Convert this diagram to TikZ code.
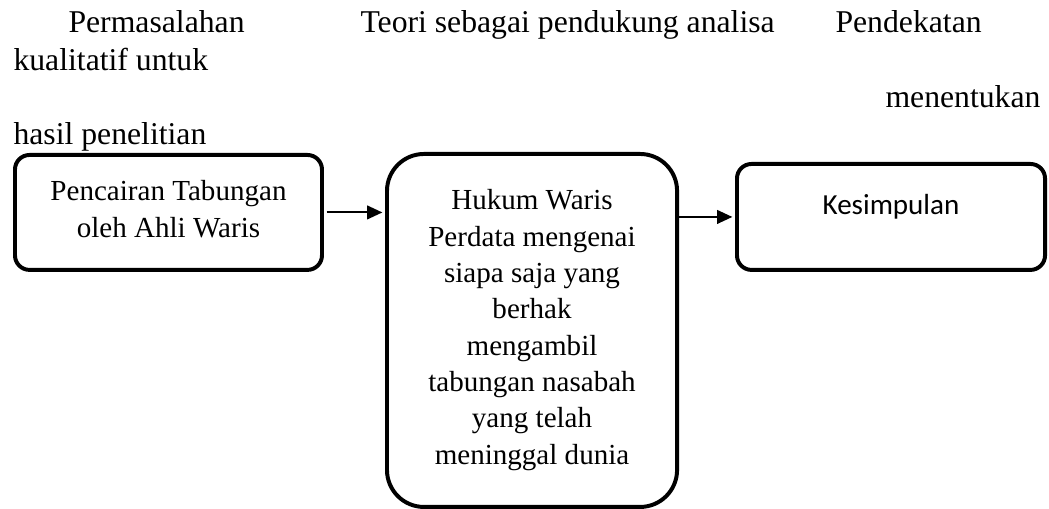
\documentclass[tikz,border=0pt]{standalone}
\usepackage{fontspec}
\setmainfont{Liberation Serif}
\newfontfamily\calibri{Carlito}
\usetikzlibrary{arrows.meta}

\begin{document}
\begin{tikzpicture}[>={Triangle[length=5.8pt, width=5.2pt]}, x=0.3785pt, y=-0.3785pt,
  teks/.style={anchor=base west, inner sep=0pt, font=\fontsize{12}{14}\selectfont},
  kotak/.style={draw, line width=1.5pt, rounded corners=5.5pt, inner sep=0pt,
    anchor=north west, font=\fontsize{11}{13.74}\selectfont},
  panah/.style={->, line width=0.75pt}]
\useasboundingbox (0,0) rectangle (1049,509);
%
\node[teks] (masalah) at (68,33) {Permasalahan};
\node[teks] (teori) at (360,33) {Teori sebagai pendukung analisa};
\node[teks] (dekat) at (835,33) {Pendekatan};
\node[teks] (kualitatif) at (13,71) {kualitatif untuk};
\node[teks] (tentukan) at (885,108) {menentukan};
\node[teks] (hasil) at (13,145) {hasil penelitian};
%
\node[kotak, minimum width=116.2pt, text height=17.4pt, text depth=26.1pt] (cair) at (13,153)
  {\parbox[t]{110pt}{\centering Pencairan Tabungan\\ oleh Ahli Waris}};
\node[kotak, rounded corners=14pt, minimum width=109.8pt, text height=21.2pt, text depth=112.4pt] (hukum) at (385,152)
  {\parbox[t]{104pt}{\centering Hukum Waris\\ Perdata mengenai\\ siapa saja yang\\ berhak\\ mengambil\\ tabungan nasabah\\ yang telah\\ meninggal dunia}};
\node[kotak, minimum width=116.6pt, text height=19.3pt, text depth=20.8pt] (simpul) at (735,162)
  {\calibri Kesimpulan};
%
\draw[panah, shorten <=1pt, shorten >=1pt] (cair.east) -- (cair.east -| hukum.west);
\draw[panah, shorten >=1pt] (simpul.west -| hukum.east) -- (simpul.west);
\end{tikzpicture}
\end{document}
